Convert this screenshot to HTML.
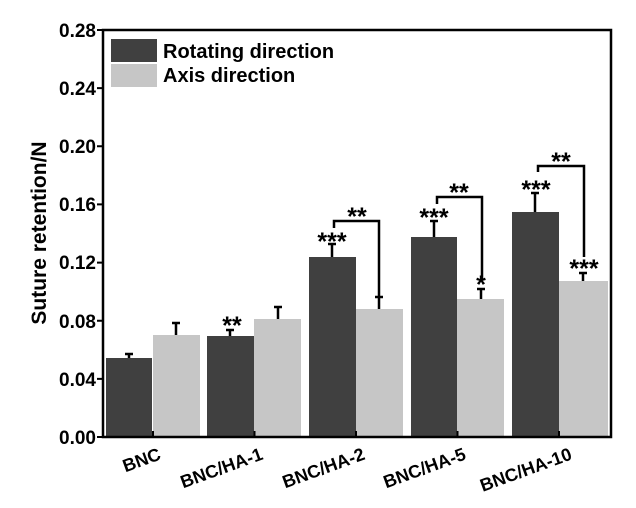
<!DOCTYPE html>
<html><head><meta charset="utf-8"><style>body{margin:0;background:#fff}svg{display:block}</style></head><body>
<svg width="636" height="508" viewBox="0 0 636 508" font-family="Liberation Sans, Arial, sans-serif" font-weight="bold">
<rect width="636" height="508" fill="#fff"/>
<g fill="#404040">
<rect x="106" y="358" width="46" height="79"/>
<rect x="207" y="336" width="47" height="101"/>
<rect x="309" y="257" width="47" height="180"/>
<rect x="411" y="237" width="46" height="200"/>
<rect x="512" y="212" width="47" height="225"/>
</g>
<g fill="#c6c6c6">
<rect x="153" y="335" width="47" height="102"/>
<rect x="254" y="319" width="47" height="118"/>
<rect x="356" y="309" width="47" height="128"/>
<rect x="457" y="299" width="47" height="138"/>
<rect x="559" y="281" width="49" height="156"/>
</g>
<g stroke="#000" stroke-width="2.5" fill="none">
<path d="M129 358V354M125 354H133"/>
<path d="M176 335V323M172 323H180"/>
<path d="M230 336V330M226 330H234"/>
<path d="M278 319V307M274 307H282"/>
<path d="M332 257V244M328 244H336"/>
<path d="M379 309V297M375 297H383"/>
<path d="M434 237V221M430 221H438"/>
<path d="M481 299V289M477 289H485"/>
<path d="M535 212V193M531 193H539"/>
<path d="M583 281V273M579 273H587"/>
<path d="M334 228V221H379V297"/>
<path d="M437 204V197H482V280"/>
<path d="M538 172V166H584V257"/>
</g>
<g font-size="25" text-anchor="middle" fill="#000" font-weight="bold">
<text x="232" y="334">**</text>
<text x="332" y="250">***</text>
<text x="357" y="225">**</text>
<text x="434" y="226">***</text>
<text x="481" y="293">*</text>
<text x="459" y="201">**</text>
<text x="536" y="198">***</text>
<text x="561" y="170">**</text>
<text x="584" y="277">***</text>
</g>
<rect x="103" y="30" width="508" height="407" fill="none" stroke="#000" stroke-width="2.5"/>
<g stroke="#000" stroke-width="2">
<path d="M97 437H103M97 378.9H103M97 320.7H103M97 262.6H103M97 204.4H103M97 146.3H103M97 88.1H103M97 30H103"/>
<path d="M153 437V431M254.5 437V431M356 437V431M457.5 437V431M559 437V431"/>
</g>
<g font-size="19" text-anchor="end" fill="#000">
<text x="96" y="444">0.00</text>
<text x="96" y="386">0.04</text>
<text x="96" y="328">0.08</text>
<text x="96" y="269">0.12</text>
<text x="96" y="211">0.16</text>
<text x="96" y="153">0.20</text>
<text x="96" y="95">0.24</text>
<text x="96" y="37">0.28</text>
</g>
<text transform="translate(46,233) rotate(-90)" font-size="21" text-anchor="middle">Suture retention/N</text>
<g font-size="18" text-anchor="end" fill="#000">
<text transform="translate(162,459) rotate(-20)">BNC</text>
<text transform="translate(264,459) rotate(-20)">BNC/HA-1</text>
<text transform="translate(366,459) rotate(-20)">BNC/HA-2</text>
<text transform="translate(467,459) rotate(-20)">BNC/HA-5</text>
<text transform="translate(573,459) rotate(-20)">BNC/HA-10</text>
</g>
<rect x="111" y="39" width="46" height="23" fill="#404040"/>
<rect x="111" y="64" width="46" height="23" fill="#c6c6c6"/>
<text x="163" y="58" font-size="20">Rotating direction</text>
<text x="163" y="82" font-size="20">Axis direction</text>
</svg>
</body></html>
